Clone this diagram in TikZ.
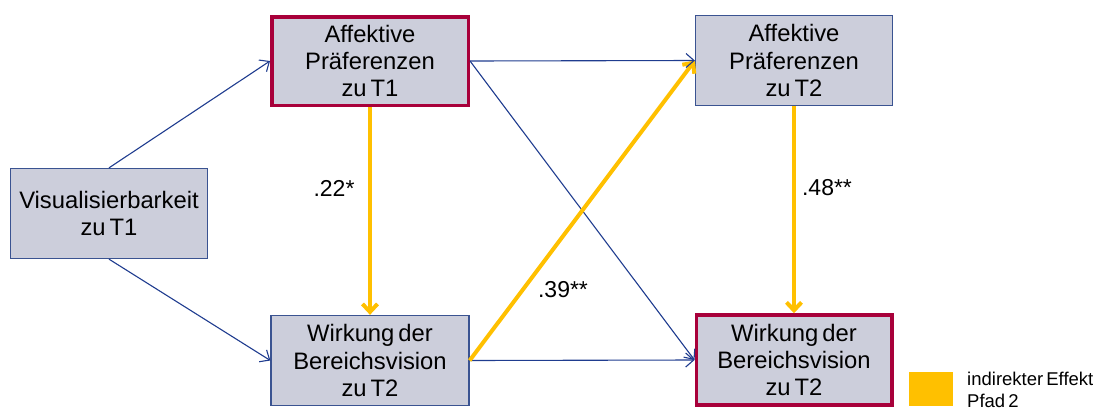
\documentclass[tikz,border=0pt]{standalone}
\usepackage{fontspec}
\setmainfont{Liberation Sans}[WordSpace=0.6]
\usetikzlibrary{arrows.meta}
\definecolor{boxfill}{HTML}{CCCEDB}
\definecolor{boxblue}{HTML}{3A5391}
\definecolor{boxred}{HTML}{A8003A}
\definecolor{linkblue}{HTML}{1F3C8F}
\definecolor{pathyellow}{HTML}{FFC000}
\begin{document}
\begin{tikzpicture}[x=1pt,y=-1pt,
  varbox/.style={rectangle, fill=boxfill, draw=boxblue, line width=1.3pt,
    align=center, inner sep=0pt, font=\fontsize{23.8}{27.3}\selectfont},
  keybox/.style={varbox, draw=boxred, line width=3.5pt},
  link/.style={draw=linkblue, line width=1.1pt, -{Straight Barb[length=8pt,width=14pt]}},
  indirect/.style={draw=pathyellow, line width=4pt, -{Straight Barb[length=8pt,width=15pt]}},
  coef/.style={font=\fontsize{23}{27}\selectfont, inner sep=0pt}]
\useasboundingbox (0,0) rectangle (1113,410);

% variables
\node[keybox, minimum width=196.5pt, minimum height=88.5pt] (a1) at (370,61)
  {Affektive\\Präferenzen\\zu T1};
\node[varbox, minimum width=197pt, minimum height=90pt] (vis) at (109,213.5)
  {Visualisierbarkeit\\zu T1};
\node[varbox, minimum width=197pt, minimum height=90pt] (a2) at (794,60.5)
  {Affektive\\Präferenzen\\zu T2};
\node[varbox, minimum width=198pt, minimum height=90pt] (w1) at (370,360.5)
  {Wirkung der\\Bereichsvision\\zu T2};
\node[keybox, minimum width=195.5pt, minimum height=90pt] (w2) at (794,360)
  {Wirkung der\\Bereichsvision\\zu T2};

% direct paths
\draw[link] (vis.north) -- (a1.west);
\draw[link] (vis.south) -- (w1.west);
\draw[link] (a1.east) -- (w2.west);
\draw[link] (w1.east) -- (w2.west);

% indirect path 2
\draw[indirect] (a1.south) -- (w1.north);
\draw[indirect] (w1.east) -- (a2.west);
\draw[indirect] (a2.south) -- (w2.north);
\draw[link] (a1.east) -- (a2.west);

% coefficients
\node[coef] (c1) at (334,188) {.22*};
\node[coef] (c2) at (827,188) {.48**};
\node[coef] (c3) at (563,290) {.39**};

% legend
\node[fill=pathyellow, minimum width=44pt, minimum height=34pt, inner sep=0pt] (key) at (931,389) {};
\node[anchor=north west, align=left, inner sep=0pt,
  font=\fontsize{18.5}{22}\selectfont] (keytext) at (967,372)
  {indirekter Effekt\\Pfad 2};
\end{tikzpicture}
\end{document}
